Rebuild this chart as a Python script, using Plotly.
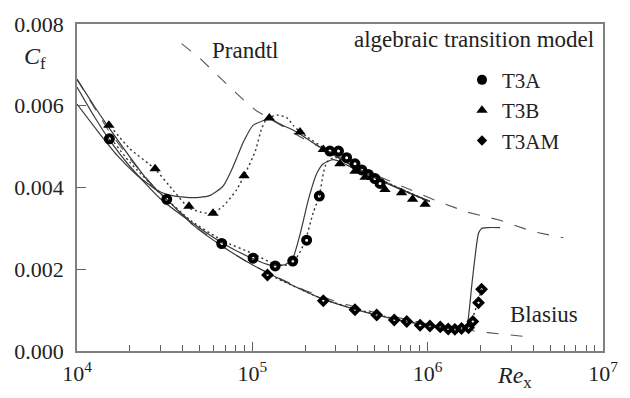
import plotly.graph_objects as go

# Skin-friction coefficient vs. Reynolds number (algebraic transition model)

# Experimental data
re_t3a = [1.53e4, 3.25e4, 6.69e4, 1.01e5, 1.35e5, 1.70e5, 2.04e5, 2.41e5,
          2.77e5, 3.10e5, 3.45e5, 3.85e5, 4.21e5, 4.59e5, 5.00e5, 5.35e5]
cf_t3a = [0.00519, 0.00371, 0.00263, 0.00227, 0.00208, 0.00220, 0.00271, 0.00379,
          0.00489, 0.00489, 0.00473, 0.00458, 0.00443, 0.00432, 0.00422, 0.00410]

re_t3b = [1.52e4, 2.79e4, 4.35e4, 5.97e4, 8.97e4, 1.25e5, 1.87e5, 2.54e5,
          3.16e5, 3.85e5, 4.40e5, 5.71e5, 7.10e5, 8.20e5, 9.67e5]
cf_t3b = [0.00552, 0.00446, 0.00354, 0.00337, 0.00429, 0.00570, 0.00536, 0.00493,
          0.00458, 0.00440, 0.00425, 0.00395, 0.00387, 0.00371, 0.00359]

re_t3am = [1.22e5, 2.54e5, 3.85e5, 5.12e5, 6.45e5, 7.60e5, 9.06e5, 1.03e6,
           1.18e6, 1.31e6, 1.43e6, 1.56e6, 1.71e6, 1.81e6, 1.95e6, 2.03e6]
cf_t3am = [0.00186, 0.00123, 0.00101, 0.00088, 0.00076, 0.00072, 0.00063, 0.00061,
           0.00059, 0.00054, 0.00053, 0.00055, 0.00057, 0.00072, 0.00118, 0.00151]

# Reference correlations
re_prandtl = [3.95e4, 5.0e4, 7.1e4, 9.3e4, 1.06e5, 2.0e5, 5.0e5, 1.13e6,
              1.67e6, 2.59e6, 3.99e6, 5.94e6]
cf_prandtl = [0.00752, 0.00717, 0.00654, 0.00607, 0.00587, 0.00517, 0.00431, 0.00367,
              0.00340, 0.00320, 0.00292, 0.00277]

re_blasius = [1e4, 1.5e4, 2e4, 3e4, 5e4, 7e4, 1e5, 2e5, 3e5, 5e5, 1e6,
              1.5e6, 2.2e6, 3.5e6]
cf_blasius = [0.00664, 0.00542, 0.00470, 0.00383, 0.00297, 0.00251, 0.00210, 0.00148,
              0.00121, 0.00094, 0.00066, 0.00054, 0.00045, 0.00036]

# Computed curves (solid)
re_t3b_calc = [1e4, 1.25e4, 1.5e4, 2e4, 2.5e4, 2.9e4, 3.5e4, 4.2e4, 5e4, 5.7e4,
               6.8e4, 7.6e4, 8.3e4, 8.9e4, 1.01e5, 1.16e5, 1.26e5, 1.44e5, 1.79e5,
               2.23e5, 3e5, 4e5, 5.5e5, 7.5e5, 1.03e6]
cf_t3b_calc = [0.00665, 0.00600, 0.00550, 0.00475, 0.00420, 0.00392, 0.00380, 0.00376,
               0.00376, 0.00380, 0.00403, 0.00442, 0.00481, 0.00512, 0.00552, 0.00564,
               0.00568, 0.00555, 0.00536, 0.00509, 0.00476, 0.00446, 0.00416, 0.00390,
               0.00366]

re_t3a_calc = [1e4, 1.25e4, 1.5e4, 2e4, 3e4, 4.6e4, 6.7e4, 9.7e4, 1.26e5, 1.5e5,
               1.68e5, 1.87e5, 2.09e5, 2.33e5, 2.54e5, 2.9e5, 4e5, 6e5, 1.03e6]
cf_t3a_calc = [0.00646, 0.00575, 0.00522, 0.00452, 0.00372, 0.00312, 0.00265, 0.00229,
               0.00210, 0.00210, 0.00222, 0.00285, 0.00371, 0.00434, 0.00458, 0.00468,
               0.00442, 0.00408, 0.00366]

re_t3am_calc = [1e4, 1.3e4, 1.7e4, 2.2e4, 3e4, 4.6e4, 6.7e4, 1e5, 1.5e5, 2.43e5,
                3.85e5, 6.45e5, 1.03e6, 1.43e6, 1.65e6, 1.70e6, 1.80e6, 1.95e6,
                2.03e6, 2.2e6, 2.59e6]
cf_t3am_calc = [0.00604, 0.00540, 0.00478, 0.00430, 0.00385, 0.00308, 0.00257, 0.00211,
                0.00172, 0.00130, 0.00102, 0.00078, 0.00062, 0.00054, 0.00055, 0.00076,
                0.00175, 0.00288, 0.00300, 0.00302, 0.00302]

# Alternative computed curves (dotted)
re_t3b_alt = [1.62e4, 2.0e4, 2.77e4, 3.57e4, 4.32e4, 5.04e4, 5.92e4, 6.84e4, 8.15e4,
              9.0e4, 1.04e5, 1.13e5, 1.21e5, 1.38e5, 1.57e5, 1.71e5, 1.87e5, 3.0e5,
              5.5e5, 1.0e6]
cf_t3b_alt = [0.00540, 0.00495, 0.00446, 0.00391, 0.00351, 0.00340, 0.00337, 0.00355,
              0.00395, 0.00430, 0.00489, 0.00544, 0.00568, 0.00577, 0.00571, 0.00552,
              0.00536, 0.00478, 0.00418, 0.00366]

re_t3a_alt = [1.5e4, 2e4, 3e4, 4.5e4, 6.84e4, 1.01e5, 1.32e5, 1.57e5, 1.79e5, 2.0e5,
              2.23e5, 2.41e5, 2.54e5, 2.66e5, 2.96e5, 4e5, 6e5, 1.0e6]
cf_t3a_alt = [0.00530, 0.00462, 0.00385, 0.00318, 0.00269, 0.00238, 0.00214, 0.00210,
              0.00229, 0.00269, 0.00340, 0.00379, 0.00434, 0.00462, 0.00474, 0.00446,
              0.00410, 0.00368]

re_t3am_alt = [1.2e5, 2.5e5, 4e5, 6.5e5, 1.0e6, 1.4e6, 1.62e6, 1.72e6, 1.82e6,
               1.95e6, 2.03e6]
cf_t3am_alt = [0.00190, 0.00128, 0.00101, 0.00079, 0.00063, 0.00055, 0.00055, 0.00060,
               0.00085, 0.00125, 0.00152]

tick_vals = [1e4, 1e5, 1e6, 1e7]
tick_text = ["10<sup>4</sup>", "10<sup>5</sup>", "10<sup>6</sup>", "10<sup>7</sup>"]

SERIF = "Liberation Serif"
INK = "#222222"
W, H = 630, 398
ML, MR, MT, MB = 77, 27, 15, 44
PW, PH = W - ML - MR, H - MT - MB


def px(xp):
    return (xp - ML) / PW


def py(yp):
    return (H - MB - yp) / PH


fig = go.Figure()

ref_style = dict(color="#555555", width=1.1, dash="12px,12px")
fig.add_trace(go.Scatter(x=re_prandtl, y=cf_prandtl, mode="lines",
                         line=ref_style, showlegend=False, hoverinfo="skip"))
fig.add_trace(go.Scatter(x=re_blasius, y=cf_blasius, mode="lines",
                         line=ref_style, showlegend=False, hoverinfo="skip"))

solid = dict(color="#3a3a3a", width=1.2)
for xs, ys in [(re_t3b_calc, cf_t3b_calc), (re_t3a_calc, cf_t3a_calc),
               (re_t3am_calc, cf_t3am_calc)]:
    fig.add_trace(go.Scatter(x=xs, y=ys, mode="lines", line=solid,
                             line_shape="spline", line_smoothing=0.6,
                             showlegend=False, hoverinfo="skip"))

dotted = dict(color="#333333", width=1.4, dash="2px,3px")
for xs, ys in [(re_t3b_alt, cf_t3b_alt), (re_t3a_alt, cf_t3a_alt),
               (re_t3am_alt, cf_t3am_alt)]:
    fig.add_trace(go.Scatter(x=xs, y=ys, mode="lines", line=dotted,
                             line_shape="spline", line_smoothing=0.6,
                             showlegend=False, hoverinfo="skip"))

# Measurements
fig.add_trace(go.Scatter(x=re_t3a, y=cf_t3a, mode="markers", showlegend=False,
                         marker=dict(symbol="circle-open", size=7, color="black",
                                     line=dict(width=4, color="black"))))
fig.add_trace(go.Scatter(x=re_t3b, y=cf_t3b, mode="markers", showlegend=False,
                         marker=dict(symbol="triangle-up", size=10, color="black")))
fig.add_trace(go.Scatter(x=re_t3am, y=cf_t3am, mode="markers", showlegend=False,
                         marker=dict(symbol="diamond-open", size=6, color="black",
                                     line=dict(width=3.6, color="black"))))

# Legend entries
for name, sym, sz in [("T3A", "circle", 10), ("T3B", "triangle-up", 10),
                      ("T3AM", "diamond", 8)]:
    fig.add_trace(go.Scatter(x=[None], y=[None], mode="markers", name=name,
                             marker=dict(symbol=sym, size=sz, color="black")))

axis_common = dict(showgrid=False, zeroline=False, showline=True,
                   linecolor="#808080", linewidth=1.5, mirror=True,
                   ticks="inside", tickcolor="#606060", tickwidth=1.2,
                   tickfont=dict(family=SERIF, size=22, color=INK))

fig.update_xaxes(type="log", range=[4, 7], tickvals=tick_vals, ticktext=tick_text,
                 ticklen=9, ticklabelstandoff=2,
                 minor=dict(ticks="inside", ticklen=6, tickcolor="#606060",
                            tickwidth=1.1, dtick="D1", showgrid=False),
                 **axis_common)
fig.update_yaxes(range=[0, 0.008], tickvals=[0, 0.002, 0.004, 0.006, 0.008],
                 tickformat=".3f", ticklen=9, ticklabelstandoff=7,
                 **axis_common)

text_font = dict(family=SERIF, size=23, color=INK)
annotations = [
    dict(text="algebraic transition model", x=px(474), y=py(31)),
    dict(text="Prandtl", x=px(245), y=py(42)),
    dict(text="Blasius", x=px(544), y=py(316)),
    dict(text="<i>C</i><sub>f</sub>", x=px(35), y=py(50),
         font=dict(family=SERIF, size=24, color=INK)),
    dict(text="<i>Re</i><sub>x</sub>", x=px(514), y=py(381),
         font=dict(family=SERIF, size=24, color=INK)),
]
for a in annotations:
    a.setdefault("font", text_font)
    fig.add_annotation(xref="paper", yref="paper", showarrow=False,
                       xanchor="center", yanchor="middle", **a)

fig.update_layout(
    width=W, height=H,
    margin=dict(l=ML, r=MR, t=MT, b=MB),
    paper_bgcolor="white", plot_bgcolor="white",
    font=dict(family=SERIF, color=INK),
    legend=dict(x=px(462), y=py(52), xanchor="left", yanchor="top",
                bgcolor="rgba(0,0,0,0)", borderwidth=0,
                font=dict(family=SERIF, size=21, color=INK),
                itemwidth=30),
)

fig.write_html("out.html")
